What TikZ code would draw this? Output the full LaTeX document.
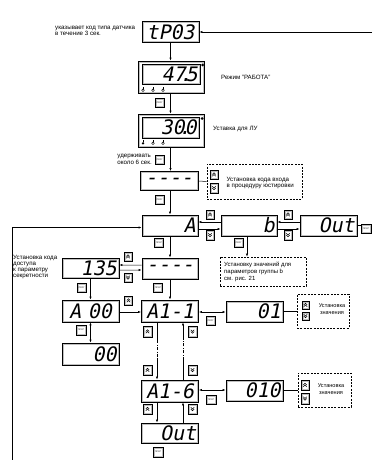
\documentclass[tikz,border=0pt]{standalone}
\usepackage{fontspec}
\setmainfont{Liberation Sans}
\newfontfamily\segfont[FakeSlant=0.2]{DejaVu Sans Mono}
\usetikzlibrary{arrows.meta}
\newcommand\innerfr{\draw[gray!50,line width=0.5bp] ([shift={(0.9,-0.9)}]path picture bounding box.south west) rectangle ([shift={(-0.9,0.9)}]path picture bounding box.north east);}
\newcommand\chevup{\draw[line width=0.5bp] ([shift={(-1.7,0)}]path picture bounding box.center) -- ([shift={(0,-1.7)}]path picture bounding box.center) -- ([shift={(1.7,0)}]path picture bounding box.center);
\draw[line width=0.5bp] ([shift={(-1.7,1.7)}]path picture bounding box.center) -- ([shift={(0,0)}]path picture bounding box.center) -- ([shift={(1.7,1.7)}]path picture bounding box.center);}
\newcommand\chevdn{\draw[line width=0.5bp] ([shift={(-1.7,0)}]path picture bounding box.center) -- ([shift={(0,1.7)}]path picture bounding box.center) -- ([shift={(1.7,0)}]path picture bounding box.center);
\draw[line width=0.5bp] ([shift={(-1.7,-1.7)}]path picture bounding box.center) -- ([shift={(0,0)}]path picture bounding box.center) -- ([shift={(1.7,-1.7)}]path picture bounding box.center);}
\begin{document}
\begin{tikzpicture}[x=1bp,y=-1bp,
  lbl/.style={font=\fontsize{6.2}{6.4}\selectfont, inner sep=0, align=left},
  sml/.style={font=\fontsize{5.6}{6.4}\selectfont, inner sep=0, align=center},
  disp/.style={draw, line width=0.8bp, inner xsep=2.5bp, inner ysep=0, minimum height=21bp, text width=52bp, align=right, font=\segfont\fontsize{20}{20}\selectfont, path picture={\innerfr}},
  panel/.style={draw, line width=0.8bp, inner sep=0, path picture={\innerfr}},
  prog/.style={draw, line width=0.45bp, inner sep=0, minimum width=9bp, minimum height=9bp, font=\fontsize{2.2}{2.2}\selectfont, path picture={\innerfr}},
  upb/.style={draw, line width=0.45bp, inner sep=0, minimum width=8bp, minimum height=9bp, path picture={\innerfr\chevup}},
  dnb/.style={draw, line width=0.45bp, inner sep=0, minimum width=8bp, minimum height=9bp, path picture={\innerfr\chevdn}},
  dbox/.style={draw, dash pattern=on 2bp off 1.3bp, line width=0.6bp, inner sep=0},
  arr/.style={-{Latex[length=3bp,width=2.2bp]}, line width=0.5bp},
  darr/.style={{Latex[length=3bp,width=2.2bp]}-{Latex[length=3bp,width=2.2bp]}, line width=0.5bp},
  ln/.style={line width=0.5bp},
  dd/.style={line width=0.5bp, dash pattern=on 3bp off 1.5bp on 0.6bp off 1.5bp}]
\useasboundingbox (0,0) rectangle (372,460);

% top
\node[disp, align=center] (tp) at (170.5,32) {tP03};
\node[lbl, anchor=west, font=\fontsize{6.2}{5.6}\selectfont] (lt) at (55,31) {указывает код типа датчика\\в течение 3 сек.};
\coordinate (R1) at (372,32);
\draw[arr] (R1) -- (tp.east);

% panel 1
\node[panel, minimum width=66bp, minimum height=32bp] (p1) at (171,77) {};
\node[disp, text width=53bp, minimum height=20bp] (d1) at (171,74) {47\makebox[0pt]{.}5};
\fill (202.5,65) circle (1.5);
\foreach \x in {143,153,163} {\draw[line width=0.4bp] (\x,90.3) circle (1.3); \draw[line width=0.4bp] (\x,87.2) -- (\x,89);}
\node[lbl, anchor=west] (lr) at (221,77) {Режим "РАБОТА"};
\node[prog] (b1) at (159.5,102.5) {ПРОГ};
\draw[arr] (tp.south) -- (tp.south |- p1.north);

% panel 2
\node[panel, minimum width=66bp, minimum height=33bp] (p2) at (171,130.5) {};
\node[disp] (d2) at (170.5,127.5) {30\makebox[0pt]{.}0};
\fill (202,118.5) circle (1.5);
\fill (143,143.3) circle (1.3); \draw[line width=0.4bp] (143,140.2) -- (143,142);
\foreach \x in {153,163} {\draw[line width=0.4bp] (\x,143.3) circle (1.3); \draw[line width=0.4bp] (\x,140.2) -- (\x,142);}
\node[lbl, anchor=west] (lu) at (213,129) {Уставка для ЛУ};
\draw[arr] (p1.south -| tp.south) -- (p2.north -| tp.south);
\node[prog] (b2) at (159.5,160) {ПРОГ};
\node[lbl, anchor=east] (lh) at (152,159.5) {удерживать\\около 6 сек.};

% code entry
\node[disp, align=center, text width=53bp, minimum height=19bp] (c1) at (169,181) {-{}-{}-{}-};
\draw[arr] (p2.south -| tp.south) -- (c1.north -| tp.south);
\node[dbox, minimum width=95bp, minimum height=35bp] (db1) at (254.5,181.5) {};
\node[upb] (u0) at (214,174.5) {};
\node[dnb, minimum height=10bp] (d0) at (214,188) {};
\node[lbl, anchor=west] (l1) at (226.5,183) {Установка кода входа\\в процедуру юстировки};
\draw[ln] (c1.east) -- (db1.west);
\node[prog] (b3) at (159.5,200) {ПРОГ};

% row A b Out
\node[disp, text width=51bp] (A) at (170,225.5) {A};
\node[disp, text width=51bp] (B) at (249,225.5) {b};
\node[disp] (O1) at (328.5,225.5) {Out};
\draw[arr] (c1.south -| A.south) -- (A.north);
\node[upb] (u12) at (210,214.5) {};
\node[dnb, minimum height=10bp] (d12) at (210,235) {};
\node[upb] (u23) at (288,214.5) {};
\node[dnb, minimum height=10bp] (d23) at (288,235) {};
\draw[arr] ([yshift=3.5bp]B.west) -- ([yshift=3.5bp]A.east);
\draw[arr] ([yshift=-3.5bp]A.east) -- ([yshift=-3.5bp]B.west);
\draw[arr] ([yshift=3.5bp]O1.west) -- ([yshift=3.5bp]B.east);
\draw[arr] ([yshift=-3.5bp]B.east) -- ([yshift=-3.5bp]O1.west);
\coordinate (R2) at (361,225.5);
\draw[ln] (O1.east) -- (R2);
\node[prog, minimum width=10bp] (bR) at (366,229) {ПРОГ};
\coordinate (L1) at (12,460);
\draw[arr] (L1) |- ([yshift=-2bp]A.west);
\node[prog] (bA) at (159,242.5) {ПРОГ};
\node[prog] (bB) at (238.5,242.5) {ПРОГ};

% group b note
\node[dbox, minimum width=86bp, minimum height=29bp] (db2) at (263,271.5) {};
\node[lbl, anchor=west, font=\fontsize{6}{6.8}\selectfont] (l2) at (224,272) {Установку значений для\\параметров группы b\\см. рис. 21};
\draw[arr] ([xshift=-2bp]B.south) -- ([xshift=-2bp]B.south |- db2.north);

% secret code
\node[disp, align=center, text width=51bp] (C2) at (170,268.5) {-{}-{}-{}-};
\draw[arr] (A.south) -- (C2.north);
\node[disp, minimum height=20bp] (K) at (90.5,268) {135};
\node[lbl, anchor=north west, font=\fontsize{6.2}{6}\selectfont] (l3) at (13,255.5) {Установка кода\\доступа\\к параметру\\секретности};
\node[upb] (uK) at (128,256.5) {};
\node[dnb] (dK) at (128,277.5) {};
\draw[arr] ([yshift=3.5bp]C2.west) -- ([yshift=3bp]K.east);
\draw[arr] ([yshift=-2bp]K.east) -- ([yshift=-1.5bp]C2.west);
\node[prog] (bK) at (81.5,287.5) {ПРОГ};
\node[prog] (bC2) at (158,287.5) {ПРОГ};

% A 00 / A1-1 row
\node[disp, align=center, minimum height=22bp] (A0) at (90.5,311) {A 00};
\node[disp, align=center, minimum height=22bp] (A11) at (170,311) {A1-1};
\draw[arr] (K.south) -- (A0.north);
\draw[arr] (C2.south) -- (A11.north);
\node[upb] (uA0) at (128.5,300.5) {};
\draw[arr] ([yshift=-1bp]A0.east) -- ([yshift=-1bp]A0.east -| A11.west);
\node[disp] (V1) at (254.5,311.5) {01};
\draw[darr] ([yshift=-1bp]A11.east) -- ([yshift=-1bp]A11.east -| V1.west);
\node[prog] (bV1) at (210.5,320.5) {ПРОГ};
\node[dbox, minimum width=52bp, minimum height=34bp] (db3) at (323,311) {};
\node[upb, minimum width=7bp, minimum height=8bp] (u3a) at (305.5,305) {};
\node[dnb, minimum width=7bp, minimum height=8bp] (d3a) at (305.5,316) {};
\node[sml] (l4) at (332,309) {Установка\\значения};
\draw[ln] (V1.east) -- (V1.east -| db3.west);
\node[prog, minimum width=10bp, minimum height=10bp] (bA0) at (81,330) {ПРОГ};
\node[disp, minimum height=22bp] (Z) at (90.5,354) {00};
\draw[darr] (A0.south) -- (Z.north);

% A1-6
\node[disp, align=center, minimum height=22bp] (A16) at (170,391) {A1-6};
\node[upb, minimum width=9bp, minimum height=11bp] (u1) at (147.5,331.5) {};
\node[dnb, minimum width=9bp, minimum height=11bp] (d1b) at (192.5,331.5) {};
\node[upb, minimum width=9bp, minimum height=10bp] (u2) at (147.5,370) {};
\node[dnb, minimum width=9bp, minimum height=10bp] (d2b) at (192.5,370) {};
\draw[ln] ([xshift=-13bp]A11.south) -- ([xshift=-13bp,yshift=-18bp]A11.south);
\draw[dd] ([xshift=-13bp,yshift=-18bp]A11.south) -- ([xshift=-13bp,yshift=22bp]A16.north);
\draw[arr] ([xshift=-13bp,yshift=22bp]A16.north) -- ([xshift=-13bp]A16.north);
\draw[ln] ([xshift=13bp]A16.north) -- ([xshift=13bp,yshift=20bp]A16.north);
\draw[dd] ([xshift=13bp,yshift=20bp]A16.north) -- ([xshift=13bp,yshift=-15bp]A11.south);
\draw[arr] ([xshift=13bp,yshift=-15bp]A11.south) -- ([xshift=13bp]A11.south);
\node[disp] (V2) at (254.5,390.5) {010};
\draw[darr] ([yshift=1bp]A16.east) -- ([yshift=1bp]A16.east -| V2.west);
\node[prog, minimum width=10bp] (bV2) at (211,399.5) {ПРОГ};
\node[dbox, minimum width=53bp, minimum height=34bp] (db4) at (324.5,390) {};
\node[upb, minimum height=10bp] (u4a) at (305,385) {};
\node[dnb, minimum height=11bp] (d4a) at (305,398.5) {};
\node[sml] (l5) at (331,389) {Установка\\значения};
\draw[ln] (V2.east) -- (V2.east -| db4.west);

% Out bottom
\node[disp, minimum height=20bp] (O2) at (170,433) {Out};
\node[upb, minimum width=9bp, minimum height=10bp] (u5) at (147.5,409) {};
\node[dnb, minimum width=9bp, minimum height=10bp] (d5) at (192.5,409) {};
\draw[arr] ([xshift=-13bp]A16.south) -- ([xshift=-13bp]A16.south |- O2.north);
\draw[arr] ([xshift=13bp]A16.south |- O2.north) -- ([xshift=13bp]A16.south);
\node[prog, minimum width=10bp, minimum height=10bp] (bO2) at (158,452) {ПРОГ};
\end{tikzpicture}
\end{document}
